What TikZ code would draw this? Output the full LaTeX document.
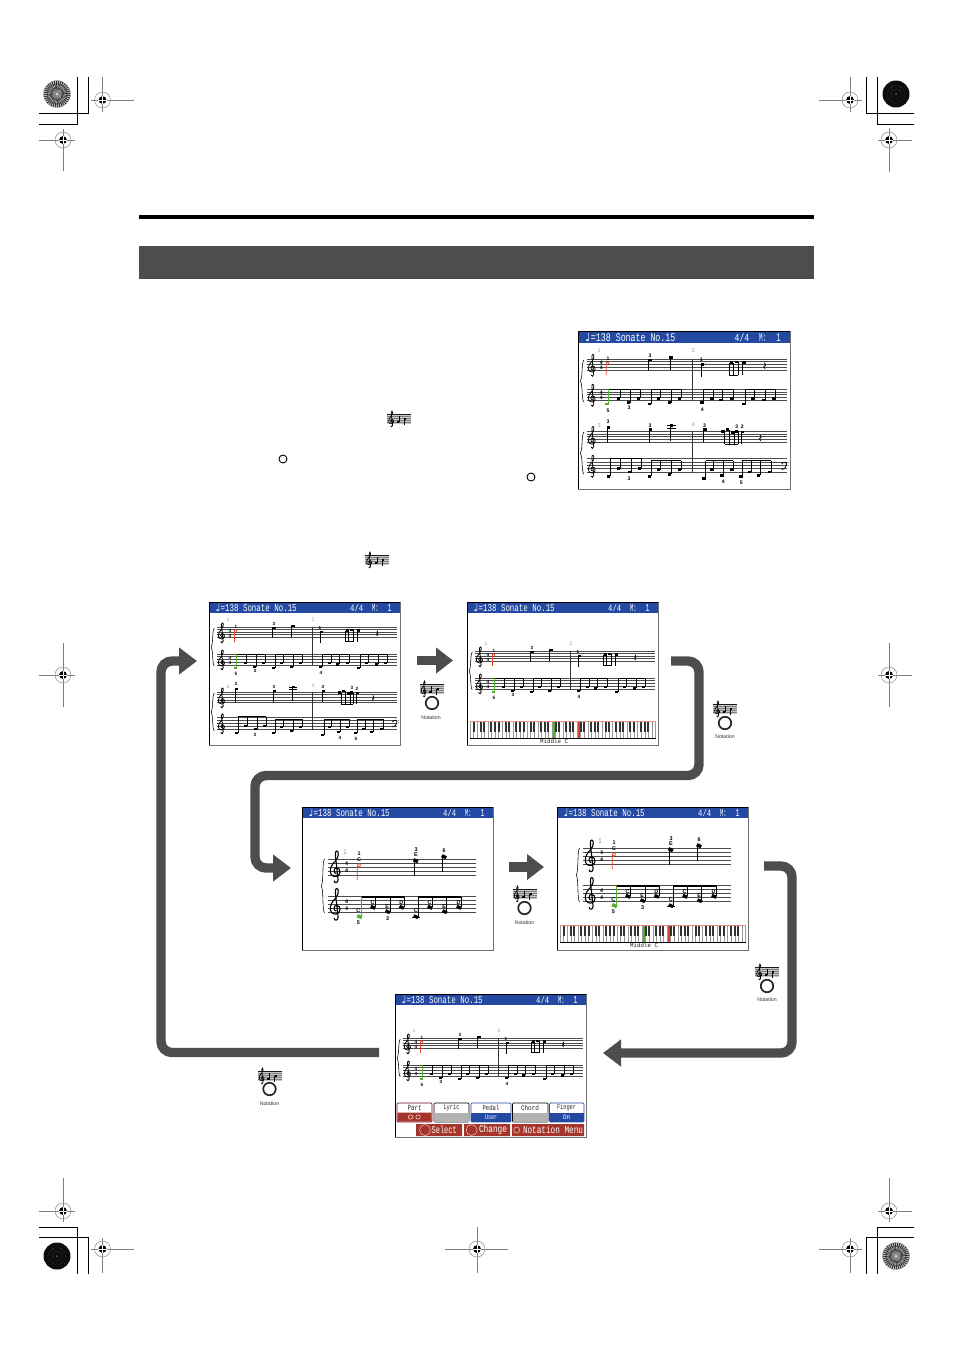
\documentclass[tikz,border=0pt]{standalone}
\usepackage{fontspec}
\usepackage{graphicx}
\setmainfont{Liberation Sans}
\setmonofont{Liberation Mono}
\newfontfamily\musicfont{DejaVu Sans}
\usetikzlibrary{arrows.meta}
\definecolor{band}{HTML}{4D4D4D}
\definecolor{lcdblue}{HTML}{2449A3}
\definecolor{mnum}{HTML}{7E9AD8}
\definecolor{hred}{HTML}{E8452C}
\definecolor{hgreen}{HTML}{56B030}
\definecolor{menured}{HTML}{A5352A}
\definecolor{regline}{HTML}{808080}
\definecolor{framegrey}{HTML}{707070}
\definecolor{keyred}{HTML}{D8402A}
\newcounter{nn}
\tikzset{
  lbl/.style={inner sep=0pt,font=\fontsize{4.6}{5}\selectfont\bfseries},
  mlbl/.style={inner sep=0pt,text=mnum,font=\fontsize{5}{5}\selectfont},
  biglbl/.style={inner sep=0pt,font=\fontsize{5.4}{6}\selectfont\bfseries},
  ttl/.style={inner sep=0pt,text=white,font=\ttfamily},
  stemline/.style={line width=0.6pt},
  stafflines/.style={line width=0.45pt,draw=black!70},
  flow/.style={draw=band,line width=9.4pt,rounded corners=11pt,-{Triangle[width=26pt,length=18pt]}},
  blockarrow/.style={draw=band,line width=9.4pt,-{Triangle[width=25pt,length=17pt]}},
  screenbox/.style={inner sep=0pt,outer sep=0pt,anchor=north west,fill=white},
  regl/.style={draw=regline,line width=0.55pt},
  crop/.style={draw=black,line width=0.6pt},
  button/.style={circle,draw=black!85,line width=1.7pt,fill=white,inner sep=0pt,minimum size=12.5pt},
  smallbutton/.style={circle,draw=black,line width=0.9pt,fill=white,inner sep=0pt,minimum size=8pt},
  ntlabel/.style={inner sep=0pt,font=\fontsize{5.2}{6}\selectfont,text=black!80},
  lcdlabel/.style={inner sep=0pt,font=\ttfamily,text=black!85},
}
\newcommand\mylab[4][lbl]{\stepcounter{nn}\node[#1] (n\arabic{nn}) at (#2,#3) {#4};}
\newcommand\stf[5][stafflines]{\foreach \ii in {0,1,2,3,4}{\draw[#1] (#2,#4+\ii*#5) -- (#3,#4+\ii*#5);}}
% note with the stem at the left of the head
\newcommand\ntd[4][black]{\fill[#1] (#2-0.3,#3-1.2) rectangle (#2+2.9,#3+1.2);\draw[#1,stemline] (#2,#3) -- (#2,#4);}
% note with the stem at the right of the head
\newcommand\ntu[4][black]{\fill[#1] (#2-3,#3-1.2) rectangle (#2+0.2,#3+1.2);\draw[#1,stemline] (#2,#3) -- (#2,#4);}
\newcommand\beamfour[9]{%
  \ntu{#2}{#3}{#1}\ntu{#4}{#5}{#1}\ntu{#6}{#7}{#1}\ntu{#8}{#9}{#1}%
  \draw[line width=0.8pt] (#2,#1) -- (#8,#1);}
\newcommand\tclef[4][0.8pt]{\begin{scope}[shift={(#2,#3)},scale=#4]
  \draw[line width=#1] (0.3,4) .. controls (-1.5,4) and (-1.5,0.5) .. (0.5,0.5) .. controls (3.5,0.5) and (3.5,6) .. (0,6) .. controls (-4.5,6) and (-4.5,0) .. (0,-4) .. controls (2,-6) and (2,-10) .. (0.7,-10) .. controls (-0.5,-10) and (-0.3,-7) .. (0.3,-3) -- (1.5,8) .. controls (1.7,10) and (-1,10.5) .. (-1,8.5);
  \end{scope}}
\newcommand\brc[3]{\pgfmathsetmacro\mm{(#2+#3)/2}%
  \draw[line width=0.55pt] (#1+1.8,#2) .. controls (#1-0.6,#2+3) and (#1+1,\mm-4) .. (#1-1.4,\mm) .. controls (#1+1,\mm+4) and (#1-0.6,#3-3) .. (#1+1.8,#3);}
\newcommand\tsig[4][lbl]{\mylab[#1]{#2}{#3}{4}\mylab[#1]{#2}{#4}{4}}
% title bar in local 191 x 143 coordinates
\newcommand\titlebar{%
  \fill[lcdblue] (0,0.5) rectangle (191,11);
  \mylab[ttl]{9}{6}{\resizebox{5pt}{7.5pt}{\musicfont ♩}}
  \mylab[ttl,anchor=west]{11.5}{6}{\resizebox{76pt}{7pt}{=138 Sonate No.15}}
  \mylab[ttl,anchor=west]{141}{6}{\resizebox{13pt}{7pt}{4/4}}
  \mylab[ttl,anchor=west]{163}{6}{\resizebox{6.5pt}{7pt}{M:}}
  \mylab[ttl,anchor=west]{178.5}{6}{\resizebox{4pt}{7pt}{1}}
  \draw[black,line width=0.7pt] (0,143) -- (0,0) -- (191,0);
  \draw[framegrey,line width=0.7pt] (191,0) -- (191,143) -- (0,143);}
% first system (two staves), top staff at 25
\newcommand\sysA{%
  \stf{8}{188}{25}{2.55}\stf{8}{188}{52}{2.7}
  \draw[stemline,black!80] (103,25) -- (103,63);
  \brc{3.5}{26}{64}
  \tclef{12.7}{31}{1}\tclef{12.7}{58}{1}
  \tsig{21}{28.5}{33.5}\tsig{21}{55.5}{60.5}
  \mylab[mlbl]{19}{18}{1}\mylab[mlbl]{104}{18}{2}
  \draw[hred,line width=0.8pt] (25.5,40) -- (25.5,28.5) .. controls (26.5,27) and (28,27.5) .. (27.8,30);
  \mylab{27}{25}{1}
  \ntd{63.7}{26}{36}\mylab{65}{22}{3}
  \ntd{82.7}{24}{35}
  \ntd{111}{30}{41}\mylab{111}{26}{1}\fill (115,29) circle (0.4);
  \ntu{139.5}{28.5}{39.7}\ntu{144}{28}{39.7}\draw[line width=0.6pt] (139.5,39.7) -- (144,39.7);
  \draw[line width=0.6pt] (136.5,28.5) -- (136.5,39.7) -- (139.5,39.7);
  \ntd{148}{28.5}{40}
  \draw[line width=0.8pt] (168,28.5) -- (169,31) -- (167.5,32) -- (168.5,34);
  \beamfour{52.3}{27.7}{65.7}{37.7}{60.7}{47}{64.7}{56}{60.7}
  \ntu[hgreen]{27.7}{65.7}{52.3}\mylab{27}{72}{5}\mylab{46}{69}{3}
  \beamfour{52.3}{66}{65.7}{74}{60.7}{84}{64.7}{93}{60.7}
  \beamfour{52.3}{113}{64.7}{122}{60.7}{130}{62.3}{140}{60.7}\mylab{112}{71}{4}
  \beamfour{52.3}{151}{65.7}{159}{60.7}{169}{62.3}{178}{60.7}
}
% second system, only in the two full-page screens
\newcommand\sysB{%
  \stf{8}{188}{90}{2.6}\stf{8}{188}{115}{3}
  \draw[stemline,black!80] (103,90) -- (103,128);
  \brc{3.5}{91}{129}
  \tclef{12.7}{96}{1}\tclef{12.7}{122}{1}
  \mylab[mlbl]{19}{85}{3}\mylab[mlbl]{104}{84}{4}
  \mylab{27}{82}{3}\ntd{26}{87}{101}
  \ntd{64}{89}{101}\mylab{65}{85}{3}
  \ntd{83}{85}{99}\draw[line width=0.4pt] (80,85) -- (88,85) (80,87.5) -- (88,87.5);
  \mylab{114}{85}{3}\ntd{113}{89}{100}
  \ntu{132}{90.5}{102}\ntu{136}{89}{102}\ntu{141}{91.3}{102}\ntu{144}{90.5}{102}
  \draw[line width=0.7pt] (132,102) -- (144,102);
  \ntd{147}{91}{102}\mylab{143}{86}{3}\mylab{148}{86.5}{2}
  \draw[line width=0.8pt] (164,93.5) -- (165,96) -- (163.5,97) -- (164.5,99);
  \beamfour{114.7}{29}{131}{38}{124}{48}{127}{57}{124}
  \beamfour{117}{66}{131}{74}{125}{84}{129}{93}{125}\mylab{46}{133}{3}
  \beamfour{117}{115}{133}{122}{125}{131}{130}{140}{125}\mylab{131}{136}{4}
  \beamfour{117}{148}{131}{156}{127}{164}{130}{174}{127}\mylab{147}{137}{5}
  \draw[line width=0.8pt] (183.5,120) .. controls (184,117.5) and (188.5,117.5) .. (188,120.5) .. controls (187.8,123) and (185.5,124.5) .. (183.5,125);
  \fill (189.3,118.5) circle (0.4) (189.3,121) circle (0.4);
}
% enlarged first measure
\newcommand\sysC{%
  \stf{25.7}{173.7}{52}{4.1}\stf{25.7}{173.7}{89.7}{4}
  \brc{20.7}{52}{106}
  \tclef[1.1pt]{33.7}{60}{1.6}\tclef[1.1pt]{33.7}{97.5}{1.6}
  \mylab[biglbl]{44.7}{56.5}{4}\mylab[biglbl]{44.7}{64}{4}
  \mylab[biglbl]{44.7}{94.5}{4}\mylab[biglbl]{44.7}{102}{4}
  \mylab[mlbl]{43}{45}{\fontsize{7}{8}\selectfont 1}
  \draw[hred,line width=0.8pt] (55.3,73) -- (55.3,58.5) .. controls (56.5,56) and (59,56) .. (58.3,59) .. controls (57.6,60.5) and (56,60.5) .. (55.3,59);
  \mylab[biglbl]{57}{47}{1}\mylab[biglbl]{57}{52.3}{C}
  \fill[rotate around={-25:(113.7,53.7)}] (111.3,52) rectangle (116.1,55.4);
  \draw[stemline,line width=0.7pt] (112,53.7) -- (112,68.7);
  \mylab[biglbl]{114}{42.3}{3}\mylab[biglbl]{114}{48}{E}
  \fill[rotate around={-25:(142,49.7)}] (139.6,48) rectangle (144.4,51.4);
  \draw[stemline,line width=0.7pt] (140.3,49.7) -- (140.3,64.7);
  \mylab[biglbl]{142}{44}{6}
  \foreach \nx/\ny/\sx/\tt in {71/100.3/73/C,85.7/104.7/88/E,99.7/100.3/102.3/D,128/100.3/130.3/C,142.7/104.7/144.7/E,157/100.3/159/D}{
    \fill[rotate around={-25:(\nx,\ny)}] (\nx-2.4,\ny-1.6) rectangle (\nx+2.4,\ny+1.6);
    \draw[line width=0.6pt] (\sx,\ny) -- (\sx,89.7);
    \mylab[biglbl]{\nx-0.5}{\ny-4.6}{\tt}}
  \draw[line width=1.7pt] (59.7,89.7) -- (102.3,89.7) (116.3,89.7) -- (159,89.7);
  \fill[rotate around={-25:(114,109.7)}] (111.6,108.1) rectangle (116.4,111.3);
  \draw[line width=0.6pt] (116.3,109.7) -- (116.3,89.7);
  \draw[line width=0.4pt] (110,109.7) -- (118,109.7);
  \mylab[biglbl]{113.7}{103.7}{C}
  \draw[hgreen,line width=0.8pt] (59.7,109.7) -- (59.7,89.7);
  \fill[hgreen,rotate around={-25:(57.5,109.7)}] (55,108) rectangle (60,111.4);
  \mylab[biglbl]{56.3}{103.7}{C}\mylab[biglbl]{56.3}{115.3}{5}\mylab[biglbl]{85.7}{111.3}{3}
}
% keyboard; #1 top y, #2 height
\newcommand\keys[2]{%
  \fill[white] (3,#1) rectangle (188.5,#1+#2);
  \fill[hgreen] (84.9,#1) rectangle (88.5,#1+#2);
  \fill[keyred] (109.9,#1) rectangle (113.5,#1+#2);
  \foreach \i in {0,...,52}{\draw[black!40,line width=0.25pt] (3+\i*3.565,#1) -- (3+\i*3.565,#1+#2);}
  \foreach \i in {0,...,50}{\pgfmathtruncatemacro\mo{mod(\i,7)}
    \ifnum\mo=1\relax\else\ifnum\mo=4\relax\else
      \fill[black!80] (3+\i*3.565+2.6,#1) rectangle (3+\i*3.565+4.6,#1+#2*0.62);
    \fi\fi}
  \draw[black,line width=0.45pt] (3,#1+#2) -- (188.5,#1+#2);
  \draw[keyred!60,line width=0.6pt] (3,#1) -- (188.5,#1);
  \mylab[lcdlabel]{87}{#1+#2+3}{\resizebox{28pt}{4.4pt}{Middle C}}
}
% cx cy left right top bottom
\newcommand\regmark[6]{%
  \begin{scope}[shift={(#1,#2)}]
  \draw[regl] (-#3,0) -- (#4,0) (0,-#5) -- (0,#6);
  \draw[regl,line width=0.45pt] (0,0) circle (8);
  \fill[black] (0,0) circle (3.9);
  \draw[white,line width=0.6pt] (-4.1,0) -- (4.1,0) (0,-4.1) -- (0,4.1);
  \end{scope}}
\newcommand\sunburst[2]{\begin{scope}[shift={(#1,#2)}]
  \fill[black!85] (0,0) circle (13.5);
  \foreach \a in {0,10,...,350}{\fill[white!72!black] (0,0) -- (\a:13.5) arc (\a:\a+5:13.5) -- cycle;}
  \foreach \r/\o in {10/0.3,6/0.4}{\draw[black,opacity=\o,line width=1.6pt] (0,0) circle (\r);}
  \fill[black!45] (0,0) circle (3.2);\fill[white] (0,0) circle (1);
  \end{scope}}
\newcommand\darktarget[2]{\begin{scope}[shift={(#1,#2)}]
  \fill[black!95] (0,0) circle (13.5);
  \foreach \r in {8.5,5}{\draw[white!55!black,dotted,line width=0.4pt] (0,0) circle (\r);}
  \fill[black!65] (0,0) circle (1);
  \end{scope}}
\newcommand\scoreicon[2]{% little score sign
  \begin{scope}[shift={(#1,#2)}]
  \fill[black!22] (-12,-4.5) rectangle (12,5);
  \foreach \ii in {-2.5,-0.5,1.5,3.5}{\draw[black!50,line width=0.3pt] (-12,\ii) -- (12,\ii);}
  \draw[black!90,line width=0.5pt] (-12,-4.5) -- (12,-4.5);
  \tclef[0.7pt]{-7.6}{0}{0.8}
  \fill (-2.2,2.2) rectangle (0,3.8);\draw[line width=0.45pt] (0,3) -- (0,-3.5);
  \fill (5,-0.8) rectangle (7.2,0.8);\draw[line width=0.45pt] (5,0) -- (5,6);
  \end{scope}}
\begin{document}
\begin{tikzpicture}[x=1pt,y=-1pt]
\useasboundingbox (0,0) rectangle (954,1350);
\fill[white] (0,0) rectangle (954,1350);
% header rule and band
\fill[black] (139,215) rectangle (814,219);
\fill[band] (139,246) rectangle (814,279);
% crop marks, corners
\draw[crop] (77,77) -- (77,124) -- (39,124) (88,77) -- (88,113) -- (39,113);
\draw[crop] (866,77) -- (866,113) -- (914,113) (877,77) -- (877,124) -- (914,124);
\draw[crop] (39,1227) -- (77,1227) -- (77,1274) (39,1237) -- (88,1237) -- (88,1274);
\draw[crop] (914,1237) -- (866,1237) -- (866,1274) (914,1227) -- (877,1227) -- (877,1274);
\sunburst{57}{94}\darktarget{896}{94}\darktarget{57}{1256}\sunburst{896}{1256}
\regmark{102.5}{100}{11.5}{31.5}{23.5}{11.5}
\regmark{63}{140}{24}{12}{11.5}{31}
\regmark{850}{100}{31.5}{11.5}{23.5}{11.5}
\regmark{889}{140}{11}{23}{12}{32}
\regmark{63}{1211}{24}{12}{33}{11}
\regmark{102.5}{1249}{11.5}{31.5}{11}{24}
\regmark{850}{1249}{31.5}{11.5}{11}{24}
\regmark{889}{1211}{11}{23}{33}{11}
\regmark{477}{1249}{32}{31}{22}{24}
\regmark{63}{675}{24}{12}{32}{32}
\regmark{889}{675}{11}{23}{32}{32}
% inline signs on the page
\scoreicon{399}{419}
\scoreicon{377}{560}
\stepcounter{nn}\node[smallbutton] (n\arabic{nn}) at (283,459) {};
\stepcounter{nn}\node[smallbutton] (n\arabic{nn}) at (531,477) {};
% screens
\node[screenbox,minimum width=212pt,minimum height=159pt] (s0) at (578,331) {};
\begin{scope}[shift={(s0.north west)},scale=1.11,every node/.append style={transform shape}]
  \titlebar\sysA\sysB
\end{scope}
\node[screenbox,minimum width=191pt,minimum height=143pt] (s1) at (209,602) {};
\begin{scope}[shift={(s1.north west)}]
  \titlebar\sysA\sysB
\end{scope}
\node[screenbox,minimum width=191pt,minimum height=143pt] (s2) at (467,602) {};
\begin{scope}[shift={(s2.north west)}]
  \titlebar
  \begin{scope}[shift={(0,24)}]\sysA\end{scope}
  \keys{119}{17}
\end{scope}
\node[screenbox,minimum width=191pt,minimum height=142pt] (s3) at (302,807) {};
\begin{scope}[shift={(s3.north west)}]
  \titlebar\sysC
\end{scope}
\node[screenbox,minimum width=191pt,minimum height=142pt] (s4) at (557,807) {};
\begin{scope}[shift={(s4.north west)}]
  \titlebar
  \begin{scope}[shift={(0,-11)}]\sysC\end{scope}
  \keys{118}{17}
\end{scope}
\node[screenbox,minimum width=191pt,minimum height=144pt] (s5) at (395,994) {};
\begin{scope}[shift={(s5.north west)}]
  \titlebar
  \begin{scope}[shift={(0,19)}]\sysA\end{scope}
  % soft buttons
  \draw[draw=purple!70!black,line width=0.7pt,rounded corners=1pt,fill=white] (2,109) rectangle (37,128);
  \fill[menured,rounded corners=0.8pt] (2.4,118.5) rectangle (36.6,127.6);
  \draw[draw=black,line width=0.7pt,rounded corners=1pt,fill=white] (39,109) rectangle (74,128);
  \fill[black!30] (39.4,118.5) rectangle (73.6,127.6);
  \draw[draw=lcdblue,line width=0.7pt,rounded corners=1pt,fill=white] (76,109) rectangle (116,128);
  \fill[lcdblue] (76.4,118.5) rectangle (115.6,127.6);
  \draw[draw=black,line width=0.7pt,rounded corners=1pt,fill=white] (117.5,109) rectangle (153,128);
  \fill[black!30] (117.9,118.5) rectangle (152.6,127.6);
  \draw[draw=lcdblue,line width=0.7pt,rounded corners=1pt,fill=white] (154.5,109) rectangle (189,128);
  \fill[lcdblue] (154.9,118.5) rectangle (188.6,127.6);
  \mylab[lcdlabel]{19.5}{113.8}{\resizebox{14pt}{5.2pt}{Part}}
  \mylab[lcdlabel]{56.5}{113.8}{\resizebox{16pt}{5.2pt}{Lyric}}
  \mylab[lcdlabel]{96}{113.8}{\resizebox{17pt}{5.2pt}{Pedal}}
  \mylab[lcdlabel]{135}{113.8}{\resizebox{18pt}{5.2pt}{Chord}}
  \mylab[lcdlabel]{171.5}{113.8}{\resizebox{19pt}{5.2pt}{Finger}}
  \mylab[ttl]{96}{123}{\resizebox{12pt}{4.6pt}{User}}
  \mylab[ttl]{171.5}{123}{\resizebox{7pt}{4.6pt}{On}}
  \draw[white,line width=0.4pt] (15.5,123) circle (2.2) (23,123) circle (2.2);
  % menu bar
  \fill[menured] (21,130) rectangle (67,142) (69,130) rectangle (115,142) (117,130) rectangle (189,142);
  \draw[white!80!menured,line width=0.45pt] (30,136) circle (5.5) (76.7,136) circle (5.5) (121.7,136) circle (3);
  \mylab[ttl]{49.2}{136}{\resizebox{25pt}{7.5pt}{Select}}
  \mylab[ttl]{98}{136}{\resizebox{28pt}{7.5pt}{Change}}
  \mylab[ttl]{158}{136}{\resizebox{60pt}{7.5pt}{Notation Menu}}
\end{scope}
% notation buttons with captions
\scoreicon{431.5}{689}
\node[button] (b1) at (432,703) {};
\node[ntlabel] (c1) at (431,717.5) {Notation};
\scoreicon{725}{709}
\node[button] (b2) at (725,723) {};
\node[ntlabel] (c2) at (725,737) {Notation};
\scoreicon{524.5}{894}
\node[button] (b3) at (524.5,908) {};
\node[ntlabel] (c3) at (524.5,923) {Notation};
\scoreicon{767}{972}
\node[button] (b4) at (767,986) {};
\node[ntlabel] (c4) at (767,1000) {Notation};
\scoreicon{269.5}{1076}
\node[button] (b5) at (269.5,1089) {};
\node[ntlabel] (c5) at (269.5,1103.5) {Notation};
% connectors
\coordinate (a2s) at ([xshift=17pt,yshift=13pt]s1.east);
\coordinate (a2e) at ([xshift=-14pt,yshift=13pt]s2.west);
\draw[blockarrow] (a2s) -- (a2e);
\coordinate (a4s) at ([xshift=16pt,yshift=11pt]s3.east);
\coordinate (a4e) at ([xshift=-13pt,yshift=11pt]s4.west);
\draw[blockarrow] (a4s) -- (a4e);
\coordinate (a1s) at (379,1052.5);
\coordinate (a1c) at (161,661);
\coordinate (a1e) at (197,661);
\draw[flow] (a1s) -| (a1c) -- (a1e);
\coordinate (a3s) at (671,661);
\coordinate (a3c) at (699,775.5);
\coordinate (a3d) at (255,868);
\coordinate (a3e) at (291,868);
\draw[flow] (a3s) -| (a3c) -| (a3d) -- (a3e);
\coordinate (a5s) at (764,866);
\coordinate (a5c) at (792,1053);
\coordinate (a5e) at (603,1053);
\draw[flow] (a5s) -| (a5c) -- (a5e);
\end{tikzpicture}
\end{document}
